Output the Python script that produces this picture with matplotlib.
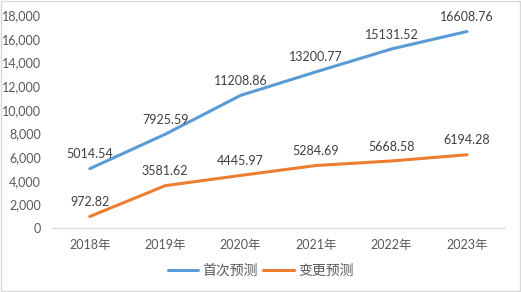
import matplotlib.pyplot as plt
from matplotlib.ticker import FuncFormatter

plt.rcParams['font.family'] = ['Lato', 'Noto Sans CJK SC', 'DejaVu Sans']

years = ['2018年', '2019年', '2020年', '2021年', '2022年', '2023年']
first_forecast = [5014.54, 7925.59, 11208.86, 13200.77, 15131.52, 16608.76]
changed_forecast = [972.82, 3581.62, 4445.97, 5284.69, 5668.58, 6194.28]

gray = '#595959'
fig = plt.figure(figsize=(5.21, 2.92), dpi=100)
ax = fig.add_axes([0.0998, 0.219, 0.869, 0.7296])

x = range(len(years))
ax.plot(x, first_forecast, color='#5B9BD5', lw=2.2, label='首次预测', solid_capstyle='round')
ax.plot(x, changed_forecast, color='#ED7D31', lw=2.2, label='变更预测', solid_capstyle='round')

for i, v in enumerate(first_forecast):
    ax.annotate('%.2f' % v, (i, v), xytext=(0, 6), textcoords='offset points',
                ha='center', va='bottom', fontsize=9, color='#404040')
for i, v in enumerate(changed_forecast):
    ax.annotate('%.2f' % v, (i, v), xytext=(0, 6), textcoords='offset points',
                ha='center', va='bottom', fontsize=9, color='#404040')

ax.set_xlim(-0.5, len(years) - 0.5)
ax.set_ylim(0, 18000)
ax.set_yticks(range(0, 18001, 2000))
ax.yaxis.set_major_formatter(FuncFormatter(lambda v, p: '{:,.0f}'.format(v)))
ax.set_xticks(list(x))
ax.set_xticklabels(years)
ax.tick_params(axis='both', length=0, labelsize=9, labelcolor=gray)
ax.tick_params(axis='x', pad=8)
ax.tick_params(axis='y', pad=8)
for s in ['top', 'right', 'left']:
    ax.spines[s].set_visible(False)
ax.spines['bottom'].set_color('#d9d9d9')

fig.legend(loc='center', bbox_to_anchor=(0.5, 0.075), ncol=2, frameon=False,
           fontsize=10, labelcolor=gray, handlelength=2.2, columnspacing=0.4,
           handletextpad=0.3)

fig.patches.append(plt.Rectangle((0.001, 0.002), 0.997, 0.995, transform=fig.transFigure,
                                 fill=False, edgecolor='#d9d9d9', lw=1))

fig.savefig('out.png', dpi=100)
